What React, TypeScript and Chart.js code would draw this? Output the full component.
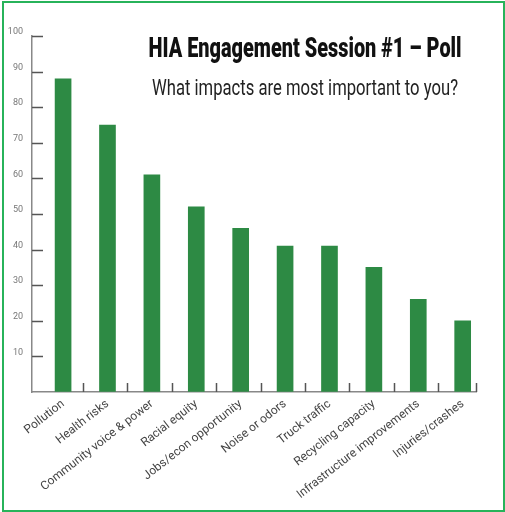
import React, { useEffect, useRef } from "react";
import { Chart, registerables } from "chart.js";

Chart.register(...registerables);

const categories = [
  "Pollution",
  "Health risks",
  "Community voice & power",
  "Racial equity",
  "Jobs/econ opportunity",
  "Noise or odors",
  "Truck traffic",
  "Recycling capacity",
  "Infrastructure improvements",
  "Injuries/crashes",
];
const responses = [88, 75, 61, 52, 46, 41, 41, 35, 26, 20];
const yTickValues = [0, 10, 20, 30, 40, 50, 60, 70, 80, 90, 100];
const titleText = "HIA Engagement Session #1 – Poll";
const subtitleText = "What impacts are most important to you?";

const headingPlugin = {
  id: "heading",
  afterDraw(chart: any) {
    const ctx = chart.ctx as CanvasRenderingContext2D;
    const draw = (text: string, font: string, color: string, cx: number, baseline: number, width: number) => {
      ctx.save();
      ctx.font = font;
      const w = ctx.measureText(text).width;
      ctx.translate(cx, baseline);
      ctx.scale(width / w, 1);
      ctx.fillStyle = color;
      ctx.textAlign = "center";
      ctx.textBaseline = "alphabetic";
      ctx.fillText(text, 0, 0);
      ctx.restore();
    };
    draw(titleText, "900 27px Roboto", "#111", 305, 57, 313);
    draw(subtitleText, "400 22px Roboto", "#222", 305, 94.5, 306);
  },
};

const innerTicksPlugin = {
  id: "innerTicks",
  afterDatasetsDraw(chart: any) {
    const { ctx, chartArea, scales } = chart;
    const x = scales.x;
    const y = scales.y;
    ctx.save();
    ctx.strokeStyle = "#555";
    ctx.lineWidth = 1.5;
    ctx.beginPath();
    yTickValues
      .filter((v) => v > 0)
      .forEach((v) => {
        const py = Math.round(y.getPixelForValue(v)) + 0.5;
        ctx.moveTo(chartArea.left, py);
        ctx.lineTo(chartArea.left + 11, py);
      });
    categories.forEach((_, i) => {
      const v = i < categories.length - 1 ? i + 0.45 : x.max;
      const px = Math.round(x.getPixelForValue(v)) + 0.5;
      ctx.moveTo(px, chartArea.bottom);
      ctx.lineTo(px, chartArea.bottom - 9);
    });
    ctx.stroke();
    ctx.restore();
  },
};

export default function App() {
  const canvasRef = useRef<HTMLCanvasElement | null>(null);

  useEffect(() => {
    if (!canvasRef.current) return;
    const chart = new Chart(canvasRef.current, {
      type: "bar",
      data: {
        datasets: [
          {
            label: "Responses",
            data: categories.map((c, i) => ({ x: i, y: responses[i] })),
            backgroundColor: "#2d8a44",
            borderWidth: 0,
            barThickness: 16,
          },
        ],
      },
      options: {
        responsive: false,
        animation: false,
        layout: { padding: { left: 0, right: 29, top: 36, bottom: 0 } },
        plugins: {
          legend: { display: false },
          tooltip: { enabled: false },
          title: { display: false },
        },
        scales: {
          x: {
            type: "linear",
            offset: false,
            min: -0.7,
            max: categories.length - 0.7,
            afterBuildTicks: (scale: any) => {
              scale.ticks = categories.map((_, i) => ({ value: i }));
            },
            afterFit: (scale: any) => {
              scale.height = 120;
            },
            grid: { drawOnChartArea: false, drawTicks: false, offset: false },
            border: { display: true, color: "#888", width: 1.5 },
            ticks: {
              autoSkip: false,
              minRotation: 38,
              maxRotation: 38,
              padding: 5,
              color: "#444",
              font: { family: "Roboto", size: 12 },
              callback: (value: any) => categories[Math.round(Number(value))] ?? "",
            },
          },
          y: {
            min: 0,
            max: 100,
            afterBuildTicks: (scale: any) => {
              scale.ticks = yTickValues.map((v) => ({ value: v }));
            },
            afterFit: (scale: any) => {
              scale.width = 32;
            },
            grid: { drawOnChartArea: false, drawTicks: false },
            border: { display: true, color: "#888", width: 1.5 },
            ticks: {
              padding: 9,
              labelOffset: -4,
              color: "#777",
              font: { family: "Roboto", size: 9 },
              callback: (value: any) => (Number(value) === 0 ? "" : String(value)),
            },
          },
        },
      },
      plugins: [innerTicksPlugin, headingPlugin],
    });
    return () => chart.destroy();
  }, []);

  return (
    <div style={{ position: "fixed", left: 0, top: 0, width: 505, height: 512, background: "#fff" }}>
      <canvas ref={canvasRef} width={505} height={512} style={{ display: "block", position: "absolute", left: 0, top: 0 }} />
      <div
        style={{
          position: "absolute",
          left: 2,
          top: 1,
          width: 503,
          height: 511,
          boxSizing: "border-box",
          border: "2px solid #27b35a",
          pointerEvents: "none",
        }}
      />
    </div>
  );
}
